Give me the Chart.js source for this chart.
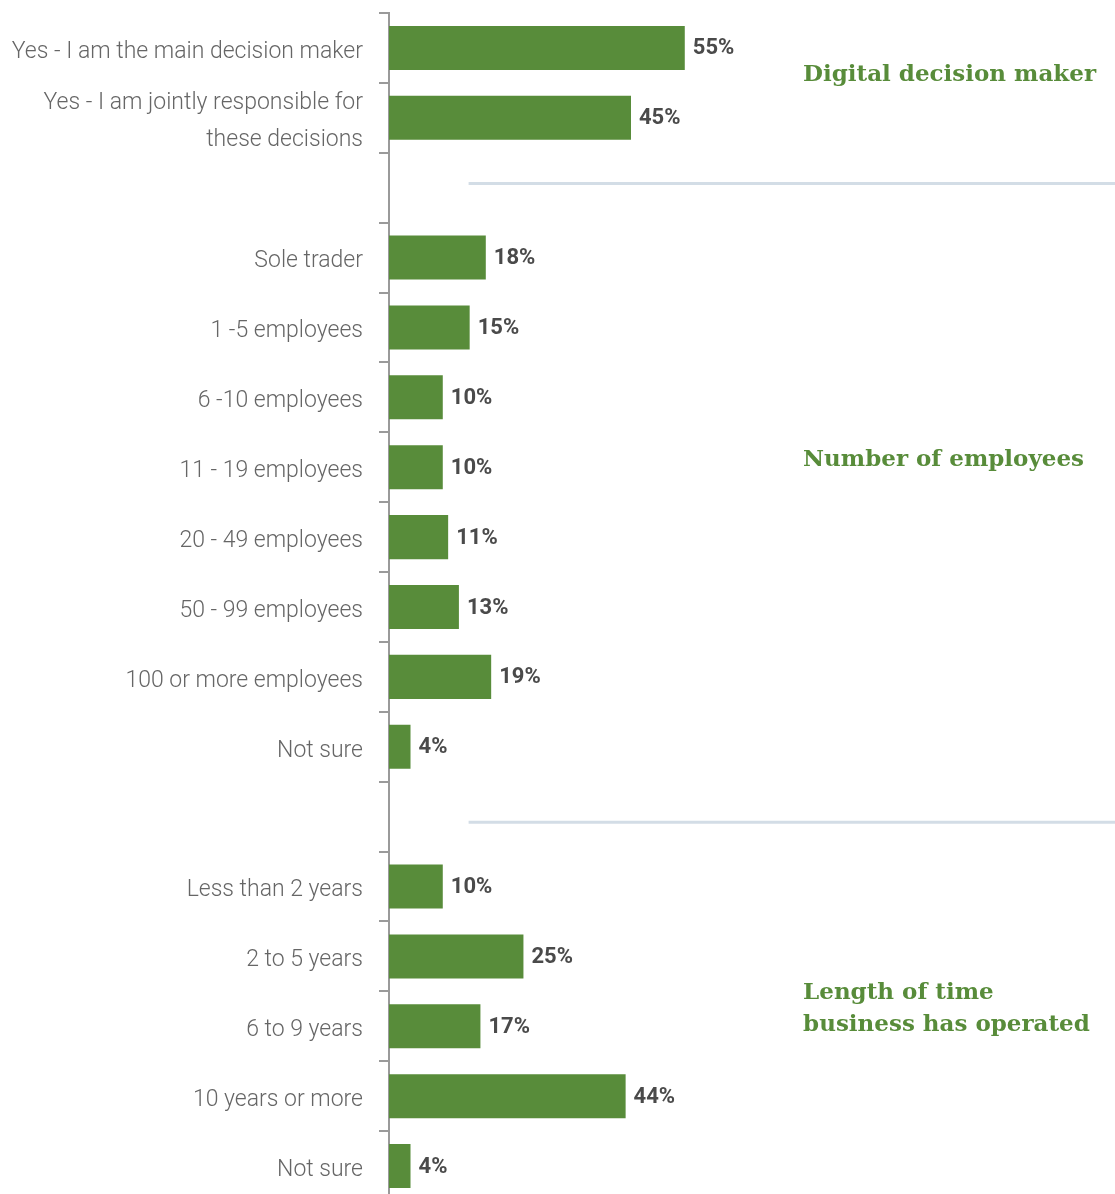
<!DOCTYPE html>
<html>
<head>
<meta charset="utf-8">
<script src="https://cdn.jsdelivr.net/npm/chart.js@4.4.1/dist/chart.umd.min.js"></script>
<style>
  html, body { margin: 0; padding: 0; background: #fff; overflow: hidden; }
</style>
</head>
<body>
<canvas id="profileChart" width="1115" height="1204"></canvas>
<script>
// categories, blank entries are the gaps between the three groups
const categories = [
  "Yes - I am the main decision maker",
  ["Yes - I am jointly responsible for", "these decisions"],
  "",
  "Sole trader",
  "1 -5 employees",
  "6 -10 employees",
  "11 - 19 employees",
  "20 - 49 employees",
  "50 - 99 employees",
  "100 or more employees",
  "Not sure",
  "",
  "Less than 2 years",
  "2 to 5 years",
  "6 to 9 years",
  "10 years or more",
  "Not sure"
];
const percentages = [55, 45, null, 18, 15, 10, 10, 11, 13, 19, 4, null, 10, 25, 17, 44, 4];
const groupTitles = [
  ["Digital decision maker"],
  ["Number of employees"],
  ["Length of time", "business has operated"]
];

const GREEN = "#588c3a";

// draws the group titles on the right and the thin separator lines
const groupDecor = {
  id: "groupDecor",
  afterDraw(chart) {
    const ctx = chart.ctx;
    const x = chart.scales.x, y = chart.scales.y;
    const area = chart.chartArea;

    ctx.save();
    ctx.strokeStyle = "#d3dde6";
    ctx.lineWidth = 3;
    [1.94, 11.08].forEach(pos => {
      const py = y.getPixelForValue(pos);
      ctx.beginPath();
      ctx.moveTo(x.getPixelForValue(14.8), py);
      ctx.lineTo(area.right, py);
      ctx.stroke();
    });

    ctx.fillStyle = GREEN;
    ctx.font = "bold 23px 'DejaVu Serif'";
    ctx.textBaseline = "middle";
    ctx.textAlign = "left";
    const anchors = [0.385, 5.895, 13.525];
    const tx = x.getPixelForValue(77);
    groupTitles.forEach((lines, i) => {
      lines.forEach((line, j) => {
        ctx.fillText(line, tx, y.getPixelForValue(anchors[i]) + j * 32);
      });
    });
    ctx.restore();
  }
};

// percentage labels at the end of each bar
const barLabels = {
  id: "barLabels",
  afterDatasetsDraw(chart) {
    const ctx = chart.ctx;
    const meta = chart.getDatasetMeta(0);
    ctx.save();
    ctx.fillStyle = "#4a4a4a";
    ctx.font = "bold 22px Roboto";
    ctx.textBaseline = "middle";
    ctx.textAlign = "left";
    meta.data.forEach((bar, i) => {
      if (percentages[i] == null) return;
      ctx.fillText(percentages[i] + "%", bar.x + 8, bar.y + 1);
    });
    ctx.restore();
  }
};

const ctx = document.getElementById("profileChart").getContext("2d");
new Chart(ctx, {
  type: "bar",
  data: {
    labels: categories,
    datasets: [{
      data: percentages,
      backgroundColor: GREEN,
      borderWidth: 0,
      barPercentage: 0.63,
      categoryPercentage: 1
    }]
  },
  options: {
    indexAxis: "y",
    responsive: false,
    animation: false,
    devicePixelRatio: 1,
    layout: { padding: { top: 13, bottom: 3, left: 0, right: 0 } },
    plugins: {
      legend: { display: false },
      tooltip: { enabled: false }
    },
    scales: {
      x: {
        display: false,
        min: 0,
        max: 135
      },
      y: {
        afterFit(scale) {
          scale.width = 389;
          scale.paddingTop = 0;
          scale.paddingBottom = 0;
        },
        border: { display: true, color: "#9a9a9a", width: 2 },
        grid: {
          display: true,
          drawOnChartArea: false,
          drawTicks: true,
          tickLength: 10,
          color: "#9a9a9a",
          lineWidth: 2,
          offset: true
        },
        ticks: {
          autoSkip: false,
          padding: 16,
          labelOffset: 4,
          color: "#666666",
          font: { family: "Roboto", weight: 300, size: 23, lineHeight: 1.6 }
        }
      }
    }
  },
  plugins: [groupDecor, barLabels]
});
</script>
</body>
</html>
